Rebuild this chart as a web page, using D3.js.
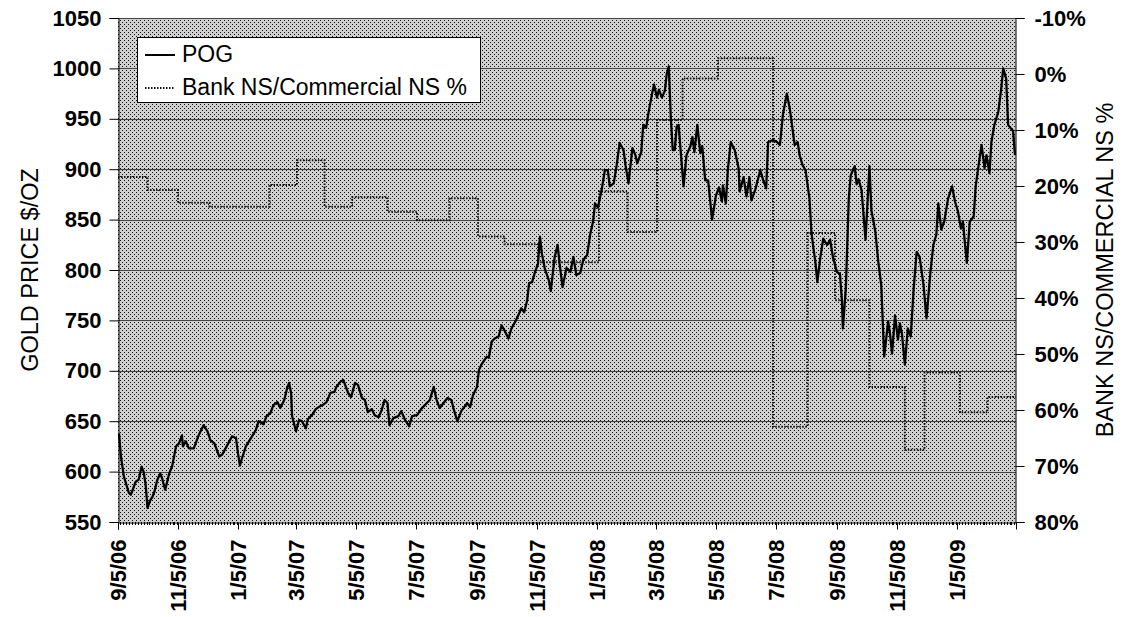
<!DOCTYPE html>
<html>
<head>
    <meta charset="UTF-8">
    <script src="https://d3js.org/d3.v7.min.js"></script>
    <style>
        body { margin: 0; background: #fff; }
        text { font-family: "Liberation Sans", Arial, sans-serif; fill: #000; }
        .tick-lbl { font-weight: bold; font-size: 22px; }
        .title { font-size: 23.5px; }
        .legend text { font-size: 23px; }
    </style>
</head>
<body>
    <svg id="chart"></svg>

    <script>
// DATA
    // gold price (POG), date m/d/yy
    var pogDates = [
        "9/6/06","9/8/06","9/11/06","9/16/06","9/18/06","9/20/06","9/23/06","9/26/06","9/29/06","10/1/06",
        "10/3/06","10/5/06","10/8/06","10/10/06","10/12/06","10/15/06","10/18/06","10/20/06","10/22/06","10/23/06",
        "10/27/06","10/30/06","11/3/06","11/6/06","11/9/06","11/10/06","11/13/06","11/16/06","11/21/06","11/26/06",
        "12/1/06","12/5/06","12/8/06","12/12/06","12/17/06","12/20/06","12/25/06","12/30/06","1/3/07","1/5/07",
        "1/7/07","1/9/07","1/13/07","1/18/07","1/23/07","1/26/07","1/31/07","2/3/07","2/7/07","2/10/07",
        "2/14/07","2/17/07","2/21/07","2/24/07","2/26/07","2/28/07","3/1/07","3/5/07","3/8/07","3/11/07",
        "3/15/07","3/17/07","3/22/07","3/25/07","3/28/07","4/1/07","4/5/07","4/9/07","4/13/07","4/15/07",
        "4/19/07","4/22/07","4/27/07","4/30/07","5/4/07","5/7/07","5/11/07","5/14/07","5/17/07","5/21/07",
        "5/24/07","5/28/07","5/31/07","6/3/07","6/6/07","6/8/07","6/12/07","6/17/07","6/20/07","6/24/07",
        "6/28/07","7/1/07","7/6/07","7/11/07","7/16/07","7/19/07","7/23/07","7/26/07","7/29/07","8/2/07",
        "8/6/07","8/10/07","8/12/07","8/16/07","8/20/07","8/26/07","8/29/07","9/1/07","9/5/07","9/7/07",
        "9/10/07","9/15/07","9/17/07","9/20/07","9/23/07","9/27/07","9/30/07","10/3/07","10/7/07","10/10/07",
        "10/14/07","10/17/07","10/20/07","10/23/07","10/26/07","10/28/07","10/31/07","11/3/07","11/6/07","11/8/07",
        "11/10/07","11/13/07","11/17/07","11/19/07","11/23/07","11/26/07","11/28/07","12/1/07","12/5/07","12/9/07",
        "12/12/07","12/15/07","12/19/07","12/22/07","12/26/07","12/29/07","1/1/08","1/3/08","1/6/08","1/10/08",
        "1/13/08","1/16/08","1/18/08","1/22/08","1/25/08","1/28/08","2/1/08","2/3/08","2/6/08","2/10/08",
        "2/13/08","2/15/08","2/19/08","2/21/08","2/24/08","2/26/08","3/1/08","3/3/08","3/6/08","3/8/08",
        "3/11/08","3/14/08","3/16/08","3/18/08","3/20/08","3/22/08","3/24/08","3/26/08","3/28/08","3/30/08",
        "4/2/08","4/5/08","4/9/08","4/11/08","4/13/08","4/16/08","4/19/08","4/21/08","4/24/08","4/27/08",
        "5/1/08","5/5/08","5/8/08","5/11/08","5/12/08","5/15/08","5/17/08","5/20/08","5/24/08","5/28/08",
        "5/29/08","6/2/08","6/5/08","6/8/08","6/10/08","6/14/08","6/19/08","6/22/08","6/25/08","6/27/08",
        "7/2/08","7/6/08","7/9/08","7/12/08","7/16/08","7/19/08","7/24/08","7/27/08","7/29/08","8/1/08",
        "8/4/08","8/8/08","8/10/08","8/12/08","8/14/08","8/16/08","8/19/08","8/22/08","8/26/08","8/29/08",
        "9/1/08","9/5/08","9/8/08","9/10/08","9/11/08","9/14/08","9/17/08","9/19/08","9/23/08","9/25/08",
        "9/27/08","9/30/08","10/4/08","10/5/08","10/8/08","10/10/08","10/14/08","10/17/08","10/20/08","10/23/08",
        "10/27/08","10/29/08","10/31/08","11/3/08","11/6/08","11/8/08","11/10/08","11/13/08","11/16/08","11/19/08",
        "11/22/08","11/25/08","11/28/08","12/2/08","12/5/08","12/9/08","12/12/08","12/15/08","12/17/08","12/20/08",
        "12/23/08","12/27/08","12/31/08","1/3/09","1/6/09","1/9/09","1/11/09","1/15/09","1/18/09","1/22/09",
        "1/24/09","1/27/09","1/30/09","2/2/09","2/4/09","2/7/09","2/9/09","2/12/09","2/16/09","2/19/09",
        "2/21/09","2/24/09","2/26/09","3/2/09","3/3/09","3/5/09"
    ];
    var pogPrices = [
        638,615,595,579,577,582,590,592,605,600,
        588,564,572,575,580,592,598,593,585,582,
        598,605,625,628,636,625,630,623,623,636,
        646,640,631,628,615,617,626,635,633,618,
        606,613,625,633,641,650,647,655,658,666,
        669,663,671,683,688,678,655,640,651,650,
        643,652,657,662,664,666,669,678,679,684,
        689,691,678,674,688,686,673,671,659,662,
        656,654,661,671,668,646,653,655,660,651,
        645,655,656,663,668,671,684,671,663,668,
        673,671,663,650,660,668,664,676,684,701,
        707,714,713,729,732,734,745,740,732,742,
        749,755,762,758,770,787,788,798,806,833,
        816,801,790,779,813,825,806,783,802,798,
        813,795,797,810,815,835,848,866,862,881,
        899,899,883,886,904,926,919,904,886,921,
        914,906,917,944,941,954,975,984,971,979,
        971,978,995,1002,952,919,919,942,944,919,
        883,914,923,932,917,944,916,923,889,889,
        850,874,882,868,884,866,899,927,919,901,
        878,892,873,892,869,880,899,889,881,927,
        929,927,924,954,975,960,924,927,914,904,
        899,871,838,822,808,788,812,831,825,830,
        812,798,796,770,742,782,871,894,903,885,
        890,879,830,848,903,859,838,808,785,714,
        749,736,717,755,731,747,737,706,742,734,
        782,818,813,785,752,798,825,835,866,840,
        848,871,883,868,858,841,848,807,848,853,
        883,904,924,901,914,896,927,944,957,980,
        1000,990,944,939,938,914
    ];

    // Bank NS / Commercial NS %, value holds until the next date
    var nsDates = [
        "9/5/06","10/5/06","11/5/06","12/7/06","2/6/07","3/6/07","4/3/07","5/1/07","6/6/07","7/6/07",
        "8/8/07","9/6/07","10/3/07","11/6/07","1/7/08","2/5/08","3/6/08","4/1/08","5/7/08","7/2/08",
        "8/6/08","9/3/08","10/8/08","11/13/08","12/3/08","1/8/09","2/5/09","3/6/09"
    ];
    var nsPct = [
        18.4,20.7,23.0,23.7,19.8,15.4,23.7,22.0,24.6,26.1,
        22.2,29.0,30.4,33.6,21.0,28.2,8.2,0.8,-2.8,63.0,
        28.4,40.4,55.9,67.1,53.3,60.4,57.7,57.7
    ];

    var priceTicks = [550,600,650,700,750,800,850,900,950,1000,1050];
    var pctTicks = [-10,0,10,20,30,40,50,60,70,80];
    var dateTicks = ["9/5/06","11/5/06","1/5/07","3/5/07","5/5/07","7/5/07","9/5/07","11/5/07",
                     "1/5/08","3/5/08","5/5/08","7/5/08","9/5/08","11/5/08","1/5/09"];
    var xStart = "9/5/06", xEnd = "3/6/09";

    var seriesNames = ["POG", "Bank NS/Commercial NS %"];

// LAYOUT
    var width = 1122,
        height = 617;
    var mL = 118, mR = 1016, mT = 18, mB = 522;

    var parse = d3.timeParse("%-m/%-d/%y");

    var svg = d3.select("#chart")
                .attr("width", width)
                .attr("height", height);

    var x = d3.scaleTime()
                .domain([parse(xStart), parse(xEnd)])
                .range([mL, mR]);
    var y = d3.scaleLinear()
                .domain([550, 1050])
                .range([mB, mT]);
    var y2 = d3.scaleLinear()
                .domain([80, -10])
                .range([mB, mT]);

    // dotted background
    var defs = svg.append("defs");
    var pat = defs.append("pattern")
                .attr("id", "dots")
                .attr("patternUnits", "userSpaceOnUse")
                .attr("width", 4)
                .attr("height", 4);
    pat.append("rect").attr("width", 4).attr("height", 4).attr("fill", "#d0d0d0");
    pat.append("rect").attr("x", 0).attr("y", 0).attr("width", 1).attr("height", 1).attr("fill", "#111");
    pat.append("rect").attr("x", 2).attr("y", 2).attr("width", 1).attr("height", 1).attr("fill", "#111");

    svg.append("rect")
        .attr("x", mL)
        .attr("y", mT)
        .attr("width", mR - mL)
        .attr("height", mB - mT)
        .attr("fill", "url(#dots)");

    // gridlines
    svg.append("g")
        .selectAll("line")
        .data(priceTicks.slice(1))
        .enter().append("line")
        .attr("x1", mL).attr("x2", mR)
        .attr("y1", d => Math.round(y(d)) + 0.5).attr("y2", d => Math.round(y(d)) + 0.5)
        .attr("stroke", "#444")
        .attr("stroke-width", 1);

// AXES
    var yAxis = svg.append("g")
        .attr("transform", `translate(${mL + 0.5},0)`)
        .call(d3.axisLeft(y).tickValues(priceTicks).tickSize(9).tickPadding(8)
                .tickFormat(d3.format("d")));
    yAxis.selectAll("text").attr("class", "tick-lbl");

    var y2Axis = svg.append("g")
        .attr("transform", `translate(${mR - 0.5},0)`)
        .call(d3.axisRight(y2).tickValues(pctTicks).tickSize(9).tickPadding(10)
                .tickFormat(d => d + "%"));
    y2Axis.selectAll("text").attr("class", "tick-lbl");

    // minor date ticks along the bottom
    svg.append("g")
        .selectAll("line")
        .data(d3.timeDay.every(3).range(parse(xStart), parse(xEnd)))
        .enter().append("line")
        .attr("x1", d => Math.round(x(d)) + 0.5).attr("x2", d => Math.round(x(d)) + 0.5)
        .attr("y1", mB).attr("y2", mB + 3)
        .attr("stroke", "#000");

    var xAxis = svg.append("g")
        .attr("transform", `translate(0,${mB + 0.5})`)
        .call(d3.axisBottom(x).tickValues(dateTicks.map(parse)).tickSize(7)
                .tickFormat(d3.timeFormat("%-m/%-d/%y")));
    xAxis.selectAll("text")
        .attr("class", "tick-lbl")
        .attr("transform", "rotate(-90)")
        .attr("text-anchor", "end")
        .attr("x", -17)
        .attr("y", 0)
        .attr("dy", "0.36em");

    svg.selectAll(".domain").attr("stroke", "#000");
    svg.selectAll(".tick line").attr("stroke", "#000");

    svg.append("text")
        .attr("class", "title")
        .attr("transform", `translate(38,${(mT + mB) / 2}) rotate(-90)`)
        .attr("text-anchor", "middle")
        .text("GOLD PRICE $/OZ");

    svg.append("text")
        .attr("class", "title")
        .attr("transform", `translate(1113,${(mT + mB) / 2}) rotate(-90)`)
        .attr("text-anchor", "middle")
        .text("BANK NS/COMMERCIAL NS %");

// SERIES
    var nsData = nsDates.map((d, i) => ({date: parse(d), v: nsPct[i]}));
    var pogData = pogDates.map((d, i) => ({date: parse(d), v: pogPrices[i]}));

    svg.append("path")
        .datum(nsData)
        .attr("fill", "none")
        .attr("stroke", "#111")
        .attr("stroke-width", 2)
        .attr("stroke-dasharray", "1.5,1.5")
        .attr("d", d3.line().curve(d3.curveStepAfter)
                .x(d => x(d.date)).y(d => y2(d.v)));

    svg.append("path")
        .datum(pogData)
        .attr("fill", "none")
        .attr("stroke", "#000")
        .attr("stroke-width", 2.3)
        .attr("stroke-linejoin", "round")
        .attr("d", d3.line().x(d => x(d.date)).y(d => y(d.v)));

// LEGEND
    var legend = svg.append("g").attr("class", "legend");
    legend.append("rect")
        .attr("x", 137.5).attr("y", 37.5)
        .attr("width", 343).attr("height", 65)
        .attr("fill", "#fff")
        .attr("stroke", "#000");
    legend.append("line")
        .attr("x1", 145).attr("x2", 175).attr("y1", 55).attr("y2", 55)
        .attr("stroke", "#000").attr("stroke-width", 2);
    legend.append("line")
        .attr("x1", 145).attr("x2", 175).attr("y1", 88).attr("y2", 88)
        .attr("stroke", "#111").attr("stroke-width", 2).attr("stroke-dasharray", "1.5,1.5");
    legend.append("text").attr("x", 182).attr("y", 62).text(seriesNames[0]);
    legend.append("text").attr("x", 182).attr("y", 95).text(seriesNames[1]);
    </script>
</body>
</html>
